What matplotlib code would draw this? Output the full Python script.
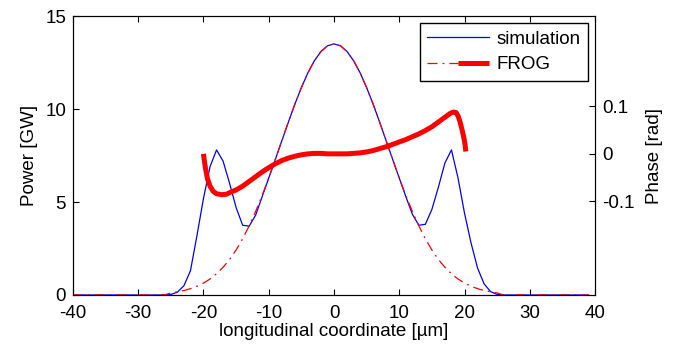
import numpy as np
import matplotlib.pyplot as plt
from matplotlib.legend_handler import HandlerTuple

plt.rcParams['font.family'] = ['Liberation Sans', 'DejaVu Sans']
plt.rcParams['axes.unicode_minus'] = False

# longitudinal coordinate [um], 1 um steps
z = np.arange(-40, 40)

# simulated power [GW]
sim_power = [0]*15 + [
    0.03, 0.15, 0.5, 1.3, 3.2, 5.2, 6.9, 7.8, 7.2, 6.0,
    4.7, 3.75, 3.7, 4.3, 5.3, 6.29, 7.28, 8.29, 9.29, 10.26,
    11.15, 11.95, 12.6, 13.09, 13.4, 13.5, 13.4, 13.09, 12.6, 11.95,
    11.15, 10.26, 9.29, 8.29, 7.28, 6.29, 5.3, 4.35, 3.75, 3.8,
    4.6, 5.8, 7.1, 7.8, 6.3, 4.4, 2.8, 1.45, 0.6, 0.18,
    0.03] + [0]*14

# FROG power [GW]
frog_power = [0]*15 + [
    0.11, 0.17, 0.24, 0.34, 0.47, 0.64, 0.86, 1.14, 1.49, 1.91,
    2.42, 3.02, 3.72, 4.5, 5.36, 6.29, 7.28, 8.29, 9.29, 10.26,
    11.15, 11.95, 12.6, 13.09, 13.4, 13.5, 13.4, 13.09, 12.6, 11.95,
    11.15, 10.26, 9.29, 8.29, 7.28, 6.29, 5.36, 4.5, 3.72, 3.02,
    2.42, 1.91, 1.49, 1.14, 0.86, 0.64, 0.47, 0.34, 0.24, 0.17,
    0.11] + [0]*14

# FROG phase [rad]
z_phase = [-20, -19.9, -19.7, -19.4, -19.0, -18.5, -18.0, -17.2, -16.5, -15.9,
           -15, -14, -13, -12, -11, -10, -9, -8, -7, -6,
           -5, -4, -3, -2, -1, 0, 1, 2, 3, 4,
           5, 6, 7, 8, 9, 10, 11, 12, 13, 14,
           15, 16, 17, 17.8, 18.3, 18.7, 19.0, 19.3, 19.6, 19.9,
           20.1, 20.2]
frog_phase = [0.0, -0.012, -0.03, -0.052, -0.068, -0.079, -0.084, -0.086, -0.085, -0.081,
              -0.076, -0.068, -0.058, -0.048, -0.038, -0.029, -0.021, -0.014, -0.009, -0.005,
              -0.002, 0.0, 0.001, 0.001, 0.0, 0.0, 0.0, 0.0, 0.001, 0.002,
              0.004, 0.007, 0.011, 0.015, 0.02, 0.025, 0.03, 0.036, 0.042, 0.049,
              0.057, 0.067, 0.077, 0.085, 0.088, 0.087, 0.08, 0.068, 0.052, 0.034,
              0.018, 0.005]

fs = 13.5
fig = plt.figure(figsize=(6.74, 3.54), dpi=100)
ax = fig.add_axes([0.1083, 0.1667, 0.7745, 0.788])
l1, = ax.plot(z, sim_power, color='blue', lw=0.9)
l2, = ax.plot(z, frog_power, color='red', lw=0.9, dashes=(8, 4, 1.5, 4))
ax.set_xlim(-40, 40)
ax.set_ylim(0, 15)
ax.set_xticks(np.arange(-40, 41, 10))
ax.set_yticks([0, 5, 10, 15])
ax.tick_params(direction='in', top=True, right=False, labelsize=fs, length=4)
ax.tick_params(axis='x', pad=7)
ax.tick_params(axis='y', pad=5)
ax.set_xlabel('longitudinal coordinate [µm]', fontsize=fs, labelpad=1)
ax.set_ylabel('Power [GW]', fontsize=fs, labelpad=5)

ax2 = ax.twinx()
l3, = ax2.plot(z_phase, frog_phase, color='red', lw=3.6, solid_capstyle='butt')
ax2.set_ylim(-0.297, 0.29)
ax2.set_yticks([-0.1, 0, 0.1])
ax2.set_yticklabels(['-0.1', '0', '0.1'])
ax2.tick_params(direction='in', labelsize=fs, length=4, pad=5)
ax2.set_ylabel('Phase [rad]', fontsize=fs, labelpad=8)

leg = ax2.legend([l1, (l2, l3)], ['simulation', 'FROG'],
                 handler_map={tuple: HandlerTuple(ndivide=None, pad=0)},
                 loc='upper right', bbox_to_anchor=(0.9866, 0.975), borderaxespad=0,
                 fontsize=fs, fancybox=False, framealpha=1, handlelength=3.3,
                 handletextpad=0.4, labelspacing=0.45, borderpad=0.4)
leg.get_frame().set_edgecolor('black')
leg.get_frame().set_linewidth(1.0)

fig.savefig('out.png', dpi=100)
